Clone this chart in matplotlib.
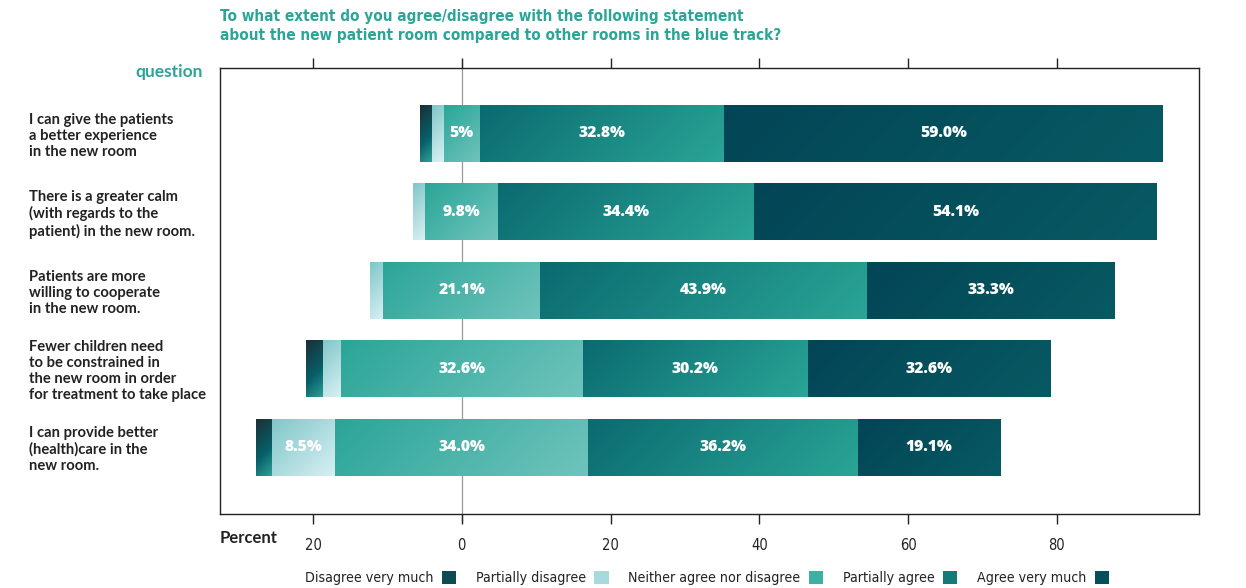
import numpy as np
import matplotlib
matplotlib.use("Agg")
import matplotlib.pyplot as plt
from matplotlib import font_manager
from matplotlib.colors import LinearSegmentedColormap
from matplotlib.patches import Rectangle, Patch
from matplotlib.ticker import FuncFormatter

# ---------------- data ----------------
questions = [
    "I can give the patients\na better experience\nin the new room",
    "There is a greater calm\n(with regards to the\npatient) in the new room.",
    "Patients are more\nwilling to cooperate\nin the new room.",
    "Fewer children need\nto be constrained in\nthe new room in order\nfor treatment to take place",
    "I can provide better\n(health)care in the\nnew room.",
]
series_names = ["Disagree very much", "Partially disagree",
                "Neither agree nor disagree", "Partially agree", "Agree very much"]
disagree_very_much = [1.6, 0.0, 0.0, 2.3, 2.1]
partially_disagree = [1.6, 1.6, 1.8, 2.3, 8.5]
neither = [4.9, 9.8, 21.1, 32.6, 34.0]
partially_agree = [32.8, 34.4, 43.9, 30.2, 36.2]
agree_very_much = [59.0, 54.1, 33.3, 32.6, 19.1]

label_disagree_very_much = [None, None, None, None, None]
label_partially_disagree = [None, None, None, None, "8.5%"]
label_neither = ["5%", "9.8%", "21.1%", "32.6%", "34.0%"]
label_partially_agree = ["32.8%", "34.4%", "43.9%", "30.2%", "36.2%"]
label_agree_very_much = ["59.0%", "54.1%", "33.3%", "32.6%", "19.1%"]

tick_values = [-20, 0, 20, 40, 60, 80]

title_text = ("To what extent do you agree/disagree with the following statement\n"
              "about the new patient room compared to other rooms in the blue track?")

# ---------------- style ----------------
label_font = "Lato"
value_font = "Open Sans"
cond = dict(family="DejaVu Sans", stretch="condensed")
teal = "#2aa597"
dark = "#222222"

grad_stops = [
    [(0.0, "#1c2e36"), (0.6, "#07606a"), (1.0, "#2f9f95")],
    [(0.0, "#80c6c8"), (1.0, "#d8f0f4")],
    [(0.0, "#2aa597"), (1.0, "#6fc4bd")],
    [(0.0, "#0b6a70"), (1.0, "#29a596")],
    [(0.0, "#034556"), (1.0, "#075a63")],
]
legend_colors = ["#0d4b55", "#a6dadd", "#3fb0a5", "#137a7a", "#054f5c"]
cmaps = [LinearSegmentedColormap.from_list(f"g{i}", s) for i, s in enumerate(grad_stops)]

W, H = 1246, 588
fig = plt.figure(figsize=(W / 100, H / 100), dpi=100)
ax = fig.add_axes([220 / W, 1 - 514 / H, (1199 - 220) / W, (514 - 68) / H])

XL = (-32.5, 99.1)
YL = (4.85, -0.83)
ax.set_xlim(*XL)
ax.set_ylim(*YL)

series = [disagree_very_much, partially_disagree, neither, partially_agree, agree_very_much]
labels = [label_disagree_very_much, label_partially_disagree, label_neither,
          label_partially_agree, label_agree_very_much]
bar_h = 0.73
ypos = np.arange(len(questions))

px_per_x = (1199 - 220) / (XL[1] - XL[0])
px_per_y = (514 - 68) / (YL[0] - YL[1])

for i, y in enumerate(ypos):
    start = -neither[i] / 2 - partially_disagree[i] - disagree_very_much[i]
    for s in range(5):
        w = series[s][i]
        if w <= 0:
            continue
        left = start
        start += w
        rect = Rectangle((left, y - bar_h / 2), w, bar_h, facecolor="none",
                         edgecolor="none")
        ax.add_patch(rect)
        wp = w * px_per_x
        hp = bar_h * px_per_y
        nx = max(int(wp), 2)
        ny = max(int(hp), 2)
        u = np.linspace(0, 1, nx)[None, :]
        v = np.linspace(0, 1, ny)[:, None]
        t = (u * wp + v * hp) / (wp + hp)
        im = ax.imshow(t, cmap=cmaps[s], vmin=0, vmax=1, aspect="auto",
                       extent=(left, left + w, y + bar_h / 2, y - bar_h / 2),
                       origin="upper", interpolation="bilinear", zorder=2)
        im.set_clip_path(rect)
        lab = labels[s][i]
        if lab:
            ax.text(left + w / 2, y, lab, ha="center", va="center", color="white",
                    fontsize=11.3, fontweight=800, family=value_font, zorder=4)

ax.set_xlim(*XL)
ax.set_ylim(*YL)

ax.axvline(0, color="#9a9a9a", lw=0.9, zorder=1, ymin=-0.017, ymax=1.017, clip_on=False)

for sp in ax.spines.values():
    sp.set_color(dark)
    sp.set_linewidth(1.0)
ax.set_xticks(tick_values)
ax.xaxis.set_major_formatter(FuncFormatter(lambda v, p: f"{abs(v):.0f}"))
ax.tick_params(axis="x", which="both", top=True, bottom=True, labeltop=False,
               direction="out", length=7, width=1, color=dark, pad=10,
               labelsize=10.5, labelcolor=dark)
for t in ax.get_xticklabels():
    t.set_family("DejaVu Sans")
    t.set_fontstretch("condensed")

ax.set_yticks(ypos)
ax.set_yticklabels(questions, ha="left", fontsize=10.6, fontweight="bold",
                   family=label_font, color=dark, linespacing=1.18)
ax.tick_params(axis="y", length=0, pad=(220 - 29) * 0.72)

fig.text(220 / W, 1 - 538 / H, "Percent", ha="left", va="center", fontsize=12,
         fontweight="bold", color=dark, family=label_font)
fig.text(203 / W, 1 - 72 / H, "question", ha="right", va="center", fontsize=12.5,
         fontweight="bold", color=teal, family=label_font)
fig.text(220 / W, 1 - 9 / H, title_text, ha="left", va="top", fontsize=11,
         fontweight="bold", color=teal, linespacing=1.35, **cond)

handles = [Patch(facecolor=c, edgecolor="none") for c in legend_colors]
leg = fig.legend(handles, series_names, loc="center", ncol=5, frameon=False,
                 bbox_to_anchor=(707 / W, 1 - 578 / H), markerfirst=False,
                 prop=font_manager.FontProperties(family="DejaVu Sans",
                                                  stretch="condensed", size=10.2),
                 handlelength=1.0, handleheight=1.0, handletextpad=0.6,
                 columnspacing=1.4)
for t in leg.get_texts():
    t.set_color(dark)

fig.savefig("out.png", dpi=100)
